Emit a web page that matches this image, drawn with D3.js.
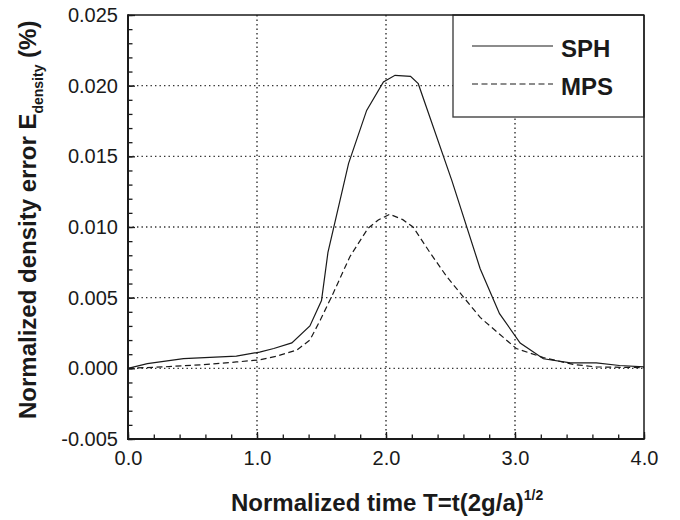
<!DOCTYPE html>
<html>
<head>
<meta charset="utf-8">
<script src="https://cdn.jsdelivr.net/npm/d3@7"></script>
<style>
  html, body { margin: 0; padding: 0; background: #fff; }
  svg { display: block; }
  text { font-family: "Liberation Sans", Arial, sans-serif; fill: #1a1a1a; }
</style>
</head>
<body>
<svg id="chart" width="680" height="520"></svg>
<script>
// ---- data ----
const sphT = [0, 0.15, 0.43, 0.84, 1.02, 1.13, 1.27, 1.41, 1.50, 1.55, 1.71, 1.85, 1.98, 2.07, 2.19, 2.25, 2.51, 2.73, 2.88, 3.04, 3.22, 3.43, 3.63, 3.81, 4.0];
const sphE = [0, 0.00033, 0.00069, 0.00087, 0.00115, 0.0014, 0.0018, 0.0030, 0.0048, 0.0082, 0.0145, 0.01825, 0.02026, 0.02073, 0.02066, 0.02014, 0.0133, 0.00705, 0.00387, 0.00179, 0.00068, 0.00038, 0.00038, 0.0002, 0.0001];
const mpsT = [0, 0.27, 0.58, 0.84, 1.02, 1.15, 1.31, 1.41, 1.49, 1.59, 1.72, 1.86, 1.94, 2.03, 2.13, 2.21, 2.34, 2.47, 2.73, 3.01, 3.22, 3.45, 3.63, 4.0];
const mpsE = [0, 0.0001, 0.00026, 0.00045, 0.0006, 0.00085, 0.0013, 0.0020, 0.0034, 0.0053, 0.0079, 0.0099, 0.0105, 0.0109, 0.01052, 0.0100, 0.0082, 0.0065, 0.0036, 0.0014, 0.00076, 0.00028, 0.0001, 0.00005];
const seriesNames = ["SPH", "MPS"];
const xTickValues = [0, 1, 2, 3, 4];
const xTickLabels = ["0.0", "1.0", "2.0", "3.0", "4.0"];
const yTickValues = [-0.005, 0, 0.005, 0.010, 0.015, 0.020, 0.025];
const yTickLabels = ["-0.005", "0.000", "0.005", "0.010", "0.015", "0.020", "0.025"];
const xGridValues = [1, 2, 3];
const yGridValues = [0, 0.005, 0.010, 0.015, 0.020];

// ---- layout ----
const L = 128, R = 644, T = 15, B = 439;
const svg = d3.select("#chart");
const x = d3.scaleLinear().domain([0, 4]).range([L, R]);
const y = d3.scaleLinear().domain([-0.005, 0.025]).range([B, T]);
const ink = "#1a1a1a";

// grid
const grid = svg.append("g").attr("stroke", "#333").attr("stroke-width", 1.4).attr("stroke-dasharray", "1.4,3.1");
grid.selectAll("line.gy").data(yGridValues).join("line")
  .attr("x1", L).attr("x2", R).attr("y1", d => y(d)).attr("y2", d => y(d));
grid.selectAll("line.gx").data(xGridValues).join("line")
  .attr("x1", d => x(d)).attr("x2", d => x(d)).attr("y1", T).attr("y2", B);

// minor ticks
const xMinor = d3.range(0, 4.0001, 0.2).map(v => +v.toFixed(1));
const yMinor = d3.range(-0.005, 0.02501, 0.001).map(v => +v.toFixed(3));
const gxm = svg.append("g").attr("transform", `translate(0,${B})`)
  .call(d3.axisBottom(x).tickValues(xMinor).tickSize(-4.5).tickFormat(""));
const gym = svg.append("g").attr("transform", `translate(${L},0)`)
  .call(d3.axisLeft(y).tickValues(yMinor).tickSize(-4.5).tickFormat(""));
[gxm, gym].forEach(g => { g.select(".domain").remove(); g.selectAll("line").attr("stroke", ink).attr("stroke-width", 1.3); });

// major axes
const gx = svg.append("g").attr("transform", `translate(0,${B})`)
  .call(d3.axisBottom(x).tickValues(xTickValues).tickSize(-7).tickPadding(12)
    .tickFormat((d, i) => xTickLabels[i]));
const gy = svg.append("g").attr("transform", `translate(${L},0)`)
  .call(d3.axisLeft(y).tickValues(yTickValues).tickSize(-7).tickPadding(10)
    .tickFormat((d, i) => yTickLabels[i]));
[gx, gy].forEach(g => {
  g.select(".domain").remove();
  g.selectAll("line").attr("stroke", ink).attr("stroke-width", 1.3);
  g.selectAll("text").attr("font-size", 20).attr("fill", ink)
    .style("font-family", '"Liberation Sans", Arial, sans-serif');
});

// series
const line = d3.line().x(d => x(d[0])).y(d => y(d[1]));
const sphData = sphT.map((t, i) => [t, sphE[i]]);
const mpsData = mpsT.map((t, i) => [t, mpsE[i]]);
svg.append("path").datum(sphData).attr("d", line)
  .attr("fill", "none").attr("stroke", ink).attr("stroke-width", 1.2);
svg.append("path").datum(mpsData).attr("d", line)
  .attr("fill", "none").attr("stroke", ink).attr("stroke-width", 1.2).attr("stroke-dasharray", "6,3.5");

// legend
const lg = svg.append("g");
lg.append("rect").attr("x", 453).attr("y", T).attr("width", R - 453).attr("height", 102)
  .attr("fill", "#fff").attr("stroke", "#444").attr("stroke-width", 1.4);
const legY = [46, 84];
const legDash = [null, "6,3.5"];
seriesNames.forEach((name, i) => {
  lg.append("line").attr("x1", 472).attr("x2", 553).attr("y1", legY[i]).attr("y2", legY[i])
    .attr("stroke", ink).attr("stroke-width", 1.2).attr("stroke-dasharray", legDash[i]);
  lg.append("text").attr("x", 561).attr("y", legY[i] + 10.5)
    .attr("font-size", 24).attr("font-weight", "bold").text(name);
});

// frame
svg.append("line").attr("x1", L).attr("x2", R).attr("y1", T).attr("y2", T).attr("stroke", ink).attr("stroke-width", 1.5);
svg.append("line").attr("x1", R).attr("x2", R).attr("y1", T).attr("y2", B).attr("stroke", ink).attr("stroke-width", 1.5);
svg.append("line").attr("x1", L).attr("x2", L).attr("y1", T - 0.75).attr("y2", B + 1).attr("stroke", ink).attr("stroke-width", 2);
svg.append("line").attr("x1", L).attr("x2", R + 0.75).attr("y1", B).attr("y2", B).attr("stroke", ink).attr("stroke-width", 2);

// axis titles
const xt = svg.append("text").attr("x", 231).attr("y", 511).attr("font-size", 24).attr("font-weight", "bold");
xt.append("tspan").text("Normalized time T=t(2g/a)");
xt.append("tspan").attr("font-size", 14).attr("dy", -11).text("1/2");

const yt = svg.append("text").attr("transform", "translate(36,419) rotate(-90)")
  .attr("font-size", 24).attr("font-weight", "bold");
yt.append("tspan").text("Normalized density error E");
yt.append("tspan").attr("font-size", 14).attr("dy", 7).text("density");
yt.append("tspan").attr("dy", -7).text(" (%)");
</script>
</body>
</html>
